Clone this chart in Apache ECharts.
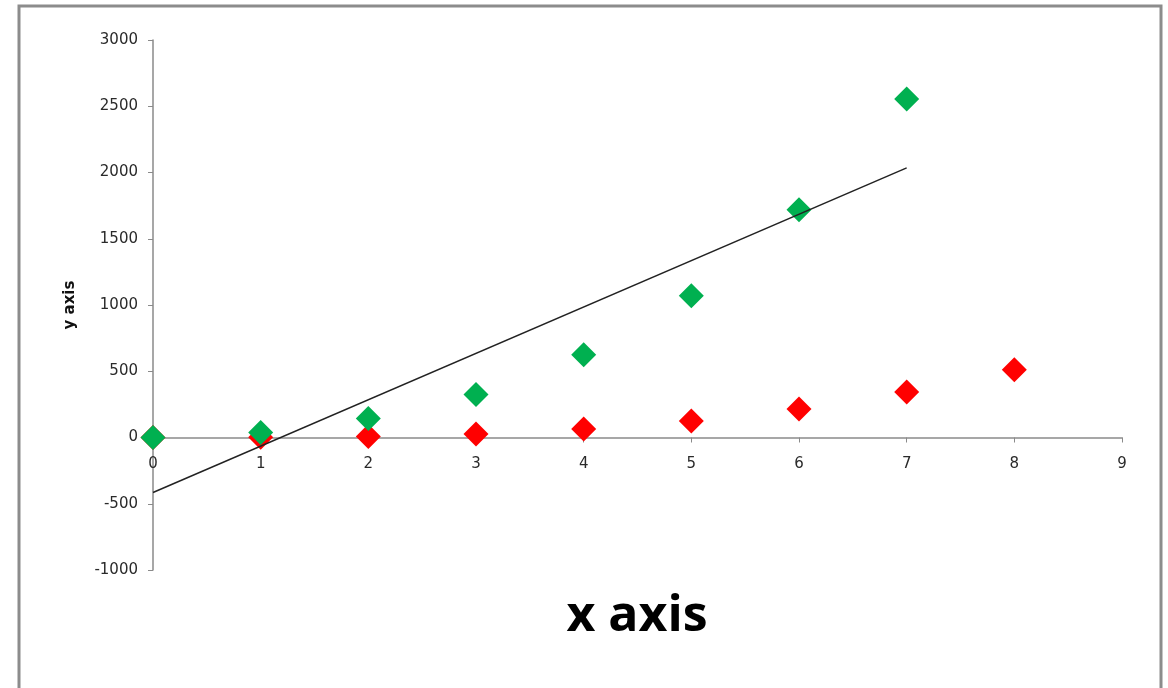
<!DOCTYPE html>
<html>
<head>
<meta charset="utf-8">
<script src="https://cdn.jsdelivr.net/npm/echarts@6/dist/echarts.min.js"></script>
<style>
html,body{margin:0;padding:0;background:#fff;}
#chart{width:1168px;height:688px;}
</style>
</head>
<body>
<div id="chart"></div>
<script>
// Data
var xValues = [0, 1, 2, 3, 4, 5, 6, 7, 8];
var greenValues = [0, 38, 143, 324, 625, 1070, 1718, 2555];
var redValues = [0, 1, 8, 27, 64, 125, 216, 343, 512];
var trendX = [0, 7];
var trendY = [-415, 2035];
var yTicks = [-1000, -500, 0, 500, 1000, 1500, 2000, 2500, 3000];
var xTicks = [0, 1, 2, 3, 4, 5, 6, 7, 8, 9];

function pairs(xs, ys) {
  return ys.map(function (v, i) { return [xs[i], v]; });
}

var chart = echarts.init(document.getElementById('chart'));
var labelFont = { fontFamily: 'DejaVu Sans', fontSize: 15, color: '#2a2a2a' };

chart.setOption({
  animation: false,
  backgroundColor: '#fff',
  grid: { left: 153, right: 46, top: 40, bottom: 118, containLabel: false },
  xAxis: {
    type: 'value',
    min: xTicks[0], max: xTicks[xTicks.length - 1], interval: 1,
    offset: -132.5,
    axisLine: { show: true, onZero: false, lineStyle: { color: '#8a8a8a', width: 1.5 } },
    axisTick: { show: true, inside: false, length: 5, lineStyle: { color: '#8a8a8a' } },
    axisLabel: Object.assign({ margin: 19, formatter: function (v) { return String(v); } }, labelFont),
    splitLine: { show: false }
  },
  yAxis: {
    type: 'value',
    min: yTicks[0], max: yTicks[yTicks.length - 1], interval: 500,
    name: 'y axis', nameLocation: 'middle', nameGap: 75, nameRotate: 90,
    nameTextStyle: { fontFamily: 'DejaVu Sans', fontSize: 15, fontWeight: 'bold', color: '#111' },
    axisLine: { show: true, onZero: false, lineStyle: { color: '#8a8a8a', width: 1.5 } },
    axisTick: { show: true, length: 5, lineStyle: { color: '#8a8a8a' } },
    axisLabel: Object.assign({ margin: 15, formatter: function (v) { return String(v); } }, labelFont),
    splitLine: { show: false }
  },
  series: [
    {
      type: 'scatter', name: 'red', symbol: 'diamond', symbolSize: 25,
      itemStyle: { color: '#ff0000', opacity: 1 },
      data: pairs(xValues, redValues), z: 3
    },
    {
      type: 'scatter', name: 'green', symbol: 'diamond', symbolSize: 25,
      itemStyle: { color: '#00b050', opacity: 1 },
      data: pairs(xValues, greenValues), z: 4
    },
    {
      type: 'line', name: 'trend', symbol: 'none',
      lineStyle: { color: '#222', width: 1.5 },
      data: pairs(trendX, trendY), z: 5
    }
  ],
  graphic: [
    {
      type: 'rect', silent: true, z: 100,
      shape: { x: 19, y: 6, width: 1142, height: 700 },
      style: { fill: 'none', stroke: '#8c8c8c', lineWidth: 3 }
    },
    {
      type: 'text', z: 100,
      x: 637, y: 617,
      style: {
        text: 'x axis', fontFamily: 'Open Sans', fontWeight: 'bold', fontSize: 50,
        fill: '#000', textAlign: 'center', textVerticalAlign: 'middle'
      }
    }
  ]
});
</script>
</body>
</html>
